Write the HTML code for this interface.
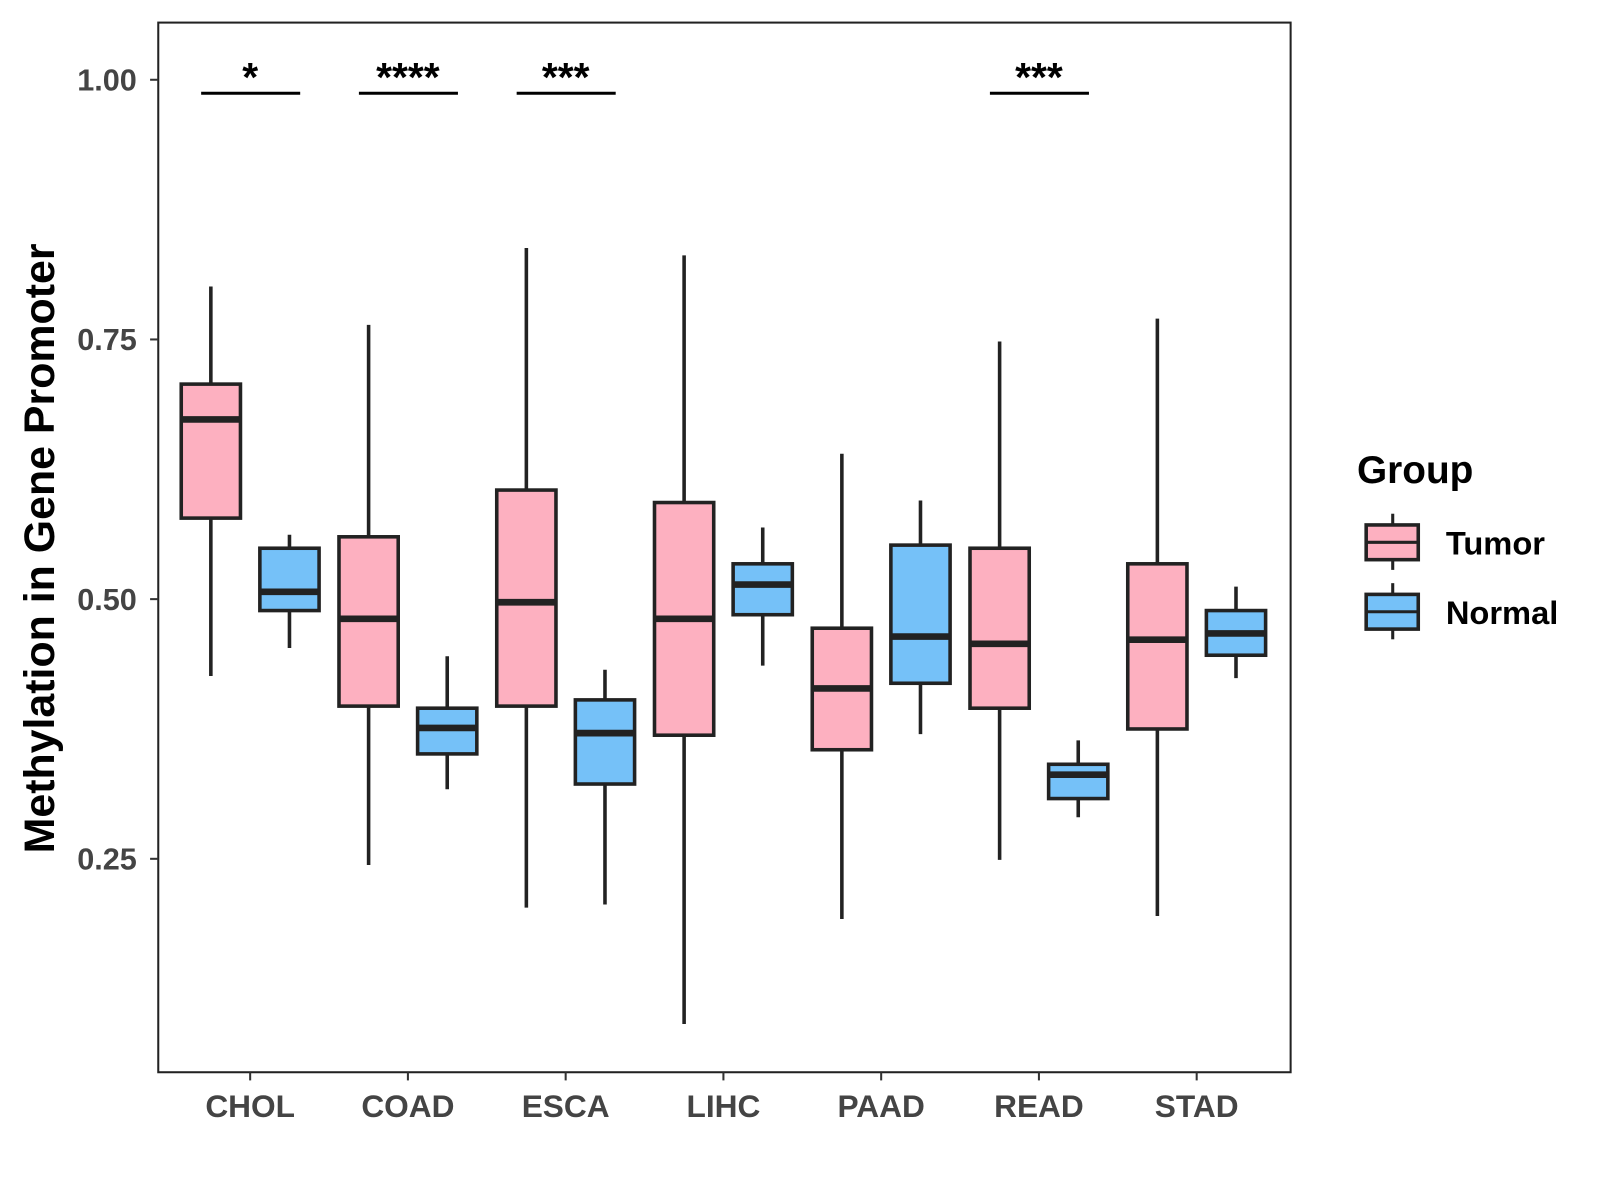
<!DOCTYPE html>
<html><head><meta charset="utf-8"><style>
html,body{margin:0;padding:0;background:#fff;}
svg{display:block;font-family:"Liberation Sans",Arial,sans-serif;}
</style></head><body>
<svg id="chart" width="1600" height="1200" viewBox="0 0 1567 1175" xmlns="http://www.w3.org/2000/svg">
<rect x="0" y="0" width="1567" height="1175" fill="#fff"/>
<rect x="155" y="22" width="1109" height="1028" fill="#fff" stroke="#222" stroke-width="2"/>
<g id="marks"></g>
<text transform="translate(53,537) rotate(-90)" text-anchor="middle" font-size="42" font-weight="bold" fill="#000">Methylation in Gene Promoter</text>
<g>
<text x="1329" y="473" font-size="38" font-weight="bold">Group</text>
<g>
<line x1="1364" y1="503" x2="1364" y2="558" stroke="#222" stroke-width="3"/>
<rect x="1338" y="514" width="51" height="34" fill="#FDB0C0" stroke="#222" stroke-width="3.5"/>
<line x1="1338" y1="531" x2="1389" y2="531" stroke="#222" stroke-width="3"/>
<text x="1416" y="543" font-size="32" font-weight="bold">Tumor</text></g>
<g>
<line x1="1364" y1="571" x2="1364" y2="626" stroke="#222" stroke-width="3"/>
<rect x="1338" y="582" width="51" height="34" fill="#75C1F8" stroke="#222" stroke-width="3.5"/>
<line x1="1338" y1="599" x2="1389" y2="599" stroke="#222" stroke-width="3"/>
<text x="1416" y="611" font-size="32" font-weight="bold">Normal</text></g>
</g>
</svg>
<script>
const categories=["CHOL","COAD","ESCA","LIHC","PAAD","READ","STAD"];
// [lowerWhisker, q1, median, q3, upperWhisker]
const tumorStats=[[0.426,0.578,0.673,0.707,0.801],[0.244,0.397,0.481,0.560,0.764],[0.203,0.397,0.497,0.605,0.838],[0.091,0.369,0.481,0.593,0.831],[0.192,0.355,0.414,0.472,0.640],[0.249,0.395,0.457,0.549,0.748],[0.195,0.375,0.461,0.534,0.770]];
const normalStats=[[0.453,0.489,0.507,0.549,0.562],[0.317,0.351,0.376,0.395,0.445],[0.206,0.322,0.371,0.403,0.432],[0.436,0.485,0.514,0.534,0.569],[0.370,0.419,0.464,0.552,0.595],[0.290,0.308,0.331,0.341,0.364],[0.424,0.446,0.467,0.489,0.512]];
const sigLabels=["*","****","***","","","***",""];
const yTicks=[0.25,0.50,0.75,1.00];
const sigLevel=0.987;
const NS="http://www.w3.org/2000/svg";
const g=document.getElementById('marks');
function yScale(v){return 78+(1-v)*1017.3;}
function xScale(i){return 245+i*154.5;}
function el(tag,attrs,parent){const e=document.createElementNS(NS,tag);for(const k in attrs)e.setAttribute(k,attrs[k]);(parent||g).appendChild(e);return e;}
yTicks.forEach(t=>{
  const y=yScale(t);
  const tk=el('line',{x1:147,x2:155,y1:y,y2:y,stroke:'#333','stroke-width':2});
  
  
  const lb=el('text',{x:134,y:y+10.5,'text-anchor':'end','font-size':30,'font-weight':'bold',fill:'#444'});
  lb.textContent=t.toFixed(2);
  
  
});
function drawBox(cx,s,fill,name){
  const w=58;
  const grp=el('g',{});
  
  
  el('line',{x1:cx,x2:cx,y1:yScale(s[4]),y2:yScale(s[0]),stroke:'#222','stroke-width':3.5},grp);
  el('rect',{x:cx-w/2,y:yScale(s[3]),width:w,height:yScale(s[1])-yScale(s[3]),fill:fill,stroke:'#222','stroke-width':3.5},grp);
  el('line',{x1:cx-w/2,x2:cx+w/2,y1:yScale(s[2]),y2:yScale(s[2]),stroke:'#222','stroke-width':6.5},grp);
}
categories.forEach((c,i)=>{
  const cx=xScale(i);
  drawBox(cx-38.5,tumorStats[i],'#FDB0C0','box-tumor-'+c.toLowerCase());
  drawBox(cx+38.5,normalStats[i],'#75C1F8','box-normal-'+c.toLowerCase());
  const tk=el('line',{x1:cx,x2:cx,y1:1050,y2:1058,stroke:'#333','stroke-width':2});
  
  
  const lb=el('text',{x:cx,y:1094,'text-anchor':'middle','font-size':31,'font-weight':'bold',fill:'#444'});
  lb.textContent=c;
  
  
  if(sigLabels[i]){
    const y=yScale(sigLevel);
    const ln=el('line',{x1:cx-48,x2:cx+49,y1:y,y2:y,stroke:'#000','stroke-width':3});
    
    
    const st=el('text',{x:cx,y:y-2,'text-anchor':'middle','font-size':40,'font-weight':'bold',fill:'#000'});
    st.textContent=sigLabels[i];
    
    
  }
});
</script>
</body></html>
